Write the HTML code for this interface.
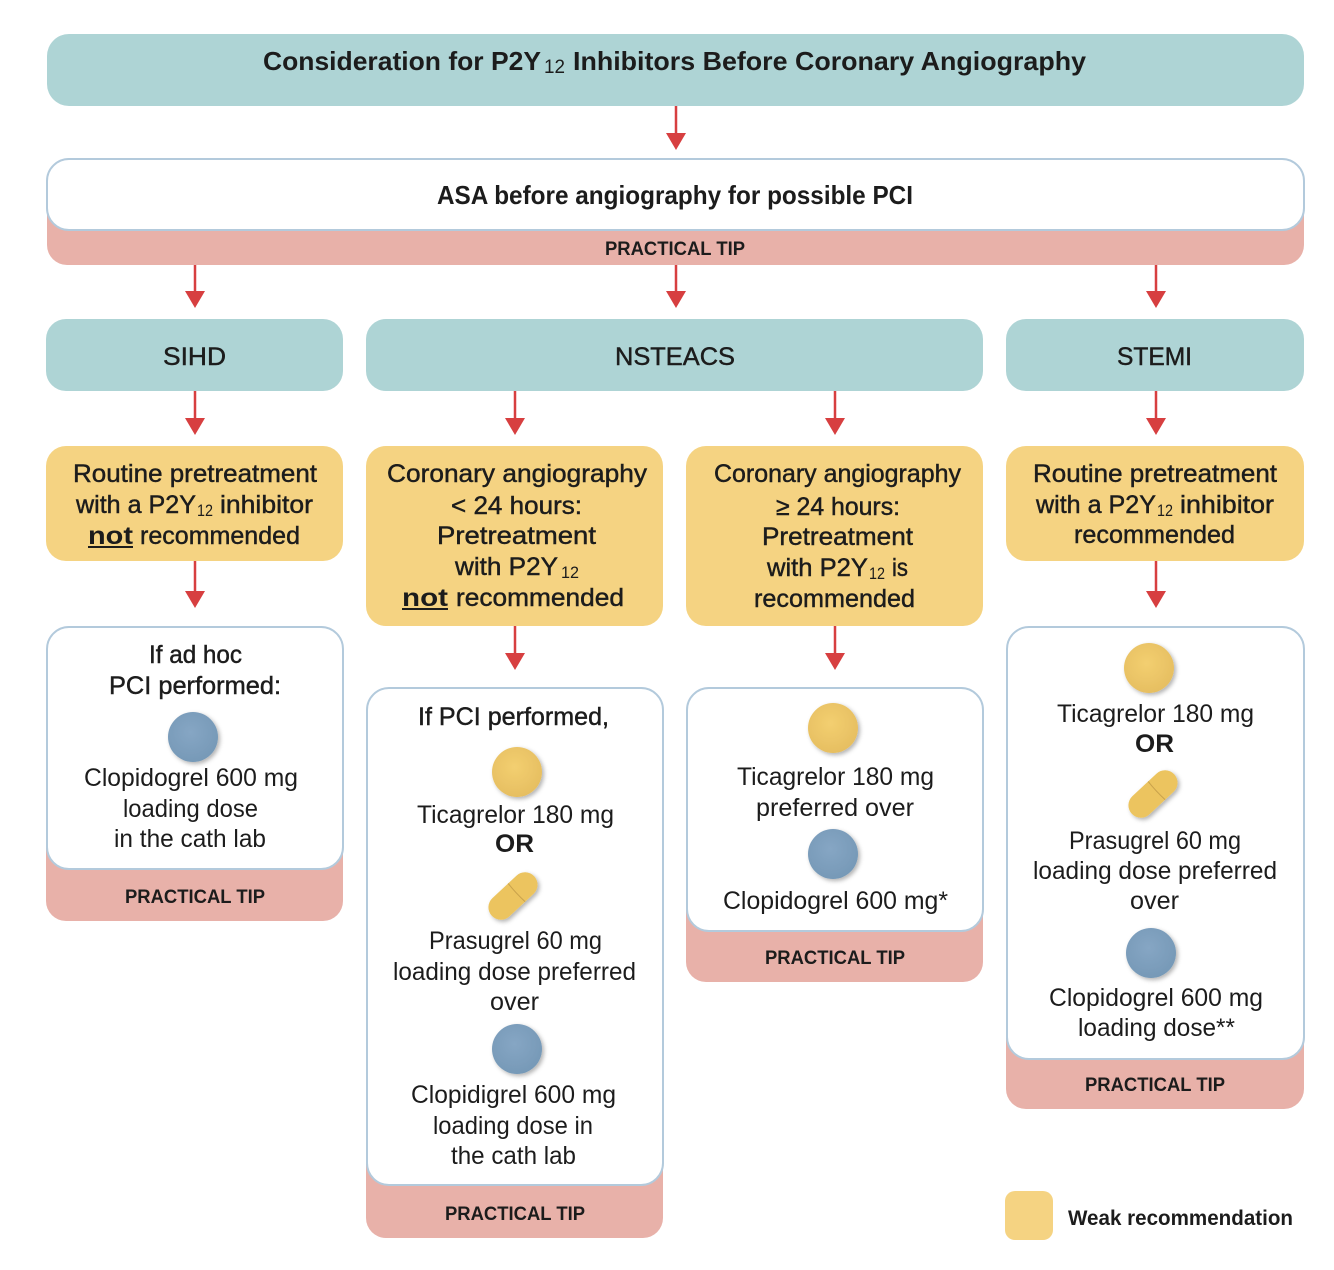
<!DOCTYPE html>
<html><head><meta charset="utf-8">
<style>
html,body{margin:0;padding:0;background:#fff;width:1334px;height:1270px;overflow:hidden}
svg{display:block}
text{font-family:"Liberation Sans",sans-serif;fill:#1c1c1c;font-size:25px;transform:translateY(-.8px)}
.m{stroke:#1c1c1c;stroke-width:.45}
.b{font-weight:bold}
.t{font-size:19px;font-weight:bold;transform:none}
.s{font-size:17px}
.tl{fill:#aed4d5}.y{fill:#f5d382}.p{fill:#e8b1a9}.w{fill:#fff;stroke:#b3cadc;stroke-width:2}
.a{stroke:#d73f40;stroke-width:2.5;fill:none}.h{fill:#d73f40}
</style></head><body>
<svg width="1334" height="1270" viewBox="0 0 1334 1270" xmlns="http://www.w3.org/2000/svg">
<defs>
<radialGradient id="gy" cx=".45" cy=".4" r=".65"><stop offset="0" stop-color="#f3cf70"/><stop offset="1" stop-color="#e5bd60"/></radialGradient>
<radialGradient id="gb" cx=".45" cy=".4" r=".65"><stop offset="0" stop-color="#86a6c4"/><stop offset="1" stop-color="#7598b6"/></radialGradient>
<filter id="sh" x="-30%" y="-30%" width="170%" height="170%"><feDropShadow dx="2" dy="2" stdDeviation="2" flood-color="#000" flood-opacity=".3"/></filter>
</defs>

<!-- boxes -->
<rect class="tl" x="47" y="34" width="1257" height="72" rx="22"/>
<rect class="p" x="47" y="190" width="1257" height="75" rx="20"/>
<rect class="w" x="47" y="159" width="1257" height="71" rx="22"/>
<rect class="tl" x="46" y="319" width="297" height="72" rx="20"/>
<rect class="tl" x="366" y="319" width="617" height="72" rx="20"/>
<rect class="tl" x="1006" y="319" width="298" height="72" rx="20"/>
<rect class="y" x="46" y="446" width="297" height="115" rx="20"/>
<rect class="y" x="366" y="446" width="297" height="180" rx="20"/>
<rect class="y" x="686" y="446" width="297" height="180" rx="20"/>
<rect class="y" x="1006" y="446" width="298" height="115" rx="20"/>

<rect class="p" x="46" y="820" width="297" height="101" rx="20"/>
<rect class="w" x="47" y="627" width="296" height="242" rx="22"/>
<rect class="p" x="366" y="1130" width="297" height="108" rx="20"/>
<rect class="w" x="367" y="688" width="296" height="497" rx="22"/>
<rect class="p" x="686" y="880" width="297" height="102" rx="20"/>
<rect class="w" x="687" y="688" width="296" height="243" rx="22"/>
<rect class="p" x="1006" y="1010" width="298" height="99" rx="20"/>
<rect class="w" x="1007" y="627" width="297" height="432" rx="22"/>
<rect class="y" x="1005" y="1191" width="48" height="49" rx="10"/>

<!-- arrows -->
<path class="a" d="M676 106V136M195 265V294M676 265V294M1156 265V294M195 391V421M515 391V421M835 391V421M1156 391V421M195 561V594M515 626V656M835 626V656M1156 561V594"/>
<path class="h" d="M666 133h20l-10 17zM185 291h20l-10 17zM666 291h20l-10 17zM1146 291h20l-10 17zM185 418h20l-10 17zM505 418h20l-10 17zM825 418h20l-10 17zM1146 418h20l-10 17zM185 591h20l-10 17zM505 653h20l-10 17zM825 653h20l-10 17zM1146 591h20l-10 17z"/>

<!-- pills -->
<g filter="url(#sh)">
<circle cx="193" cy="737" r="25" fill="url(#gb)"/>
<circle cx="517" cy="772" r="25" fill="url(#gy)"/>
<circle cx="517" cy="1049" r="25" fill="url(#gb)"/>
<circle cx="833" cy="728" r="25" fill="url(#gy)"/>
<circle cx="833" cy="854" r="25" fill="url(#gb)"/>
<circle cx="1149" cy="668" r="25" fill="url(#gy)"/>
<circle cx="1151" cy="953" r="25" fill="url(#gb)"/>
<g transform="translate(513 896) rotate(-43)"><rect x="-29" y="-12.500" width="58" height="25" rx="12.500" fill="#ecc45f"/><path d="M5 -12.500Q4 0 5 12.500" fill="none" stroke="#c9a24c" stroke-width="1"/></g>
<g transform="translate(1153 794) rotate(-43)"><rect x="-29" y="-12.500" width="58" height="25" rx="12.500" fill="#ecc45f"/><path d="M5 -12.500Q4 0 5 12.500" fill="none" stroke="#c9a24c" stroke-width="1"/></g>
</g>

<!-- header -->
<text class="b" x="263" y="71" style="font-size:26px" textLength="278" lengthAdjust="spacingAndGlyphs">Consideration for P2Y</text>
<text class="s" x="544" y="74" style="font-size:19px" textLength="21" lengthAdjust="spacingAndGlyphs">12</text>
<text class="b" x="573" y="71" style="font-size:26px" textLength="513" lengthAdjust="spacingAndGlyphs">Inhibitors Before Coronary Angiography</text>
<text class="b" x="437" y="205" style="font-size:26px" textLength="476" lengthAdjust="spacingAndGlyphs">ASA before angiography for possible PCI</text>
<text class="t" x="605" y="255" textLength="140" lengthAdjust="spacingAndGlyphs">PRACTICAL TIP</text>

<text class="m" x="163" y="366" textLength="63" lengthAdjust="spacingAndGlyphs">SIHD</text>
<text class="m" x="615" y="366" textLength="120" lengthAdjust="spacingAndGlyphs">NSTEACS</text>
<text class="m" x="1117" y="366" textLength="75" lengthAdjust="spacingAndGlyphs">STEMI</text>

<!-- yellow 1 -->
<text class="m" x="73" y="483" textLength="244" lengthAdjust="spacingAndGlyphs">Routine pretreatment</text>
<text class="m" x="76" y="514" textLength="120" lengthAdjust="spacingAndGlyphs">with a P2Y</text>
<text class="s" x="197" y="517" textLength="16" lengthAdjust="spacingAndGlyphs">12</text>
<text class="m" x="220" y="514" textLength="93" lengthAdjust="spacingAndGlyphs">inhibitor</text>
<text class="b" x="88" y="545" textLength="45" lengthAdjust="spacingAndGlyphs">not</text>
<path d="M88 547H133" stroke="#1c1c1c" stroke-width="2"/>
<text class="m" x="140" y="545" textLength="160" lengthAdjust="spacingAndGlyphs">recommended</text>

<!-- yellow 2 -->
<text class="m" x="387" y="483" textLength="260" lengthAdjust="spacingAndGlyphs">Coronary angiography</text>
<text class="m" x="451" y="515" textLength="131" lengthAdjust="spacingAndGlyphs">&lt; 24 hours:</text>
<text class="m" x="437" y="545" textLength="159" lengthAdjust="spacingAndGlyphs">Pretreatment</text>
<text class="m" x="455" y="576" textLength="103" lengthAdjust="spacingAndGlyphs">with P2Y</text>
<text class="s" x="561" y="579" textLength="18" lengthAdjust="spacingAndGlyphs">12</text>
<text class="b" x="402" y="607" textLength="46" lengthAdjust="spacingAndGlyphs">not</text>
<path d="M402 609H448" stroke="#1c1c1c" stroke-width="2"/>
<text class="m" x="456" y="607" textLength="168" lengthAdjust="spacingAndGlyphs">recommended</text>

<!-- yellow 3 -->
<text class="m" x="714" y="483" textLength="247" lengthAdjust="spacingAndGlyphs">Coronary angiography</text>
<text class="m" x="776" y="516" textLength="124" lengthAdjust="spacingAndGlyphs">≥ 24 hours:</text>
<text class="m" x="762" y="546" textLength="151" lengthAdjust="spacingAndGlyphs">Pretreatment</text>
<text class="m" x="767" y="577" textLength="101" lengthAdjust="spacingAndGlyphs">with P2Y</text>
<text class="s" x="869" y="580" textLength="16" lengthAdjust="spacingAndGlyphs">12</text>
<text class="m" x="892" y="577" textLength="16" lengthAdjust="spacingAndGlyphs">is</text>
<text class="m" x="754" y="608" textLength="161" lengthAdjust="spacingAndGlyphs">recommended</text>

<!-- yellow 4 -->
<text class="m" x="1033" y="483" textLength="244" lengthAdjust="spacingAndGlyphs">Routine pretreatment</text>
<text class="m" x="1036" y="514" textLength="120" lengthAdjust="spacingAndGlyphs">with a P2Y</text>
<text class="s" x="1157" y="517" textLength="16" lengthAdjust="spacingAndGlyphs">12</text>
<text class="m" x="1180" y="514" textLength="94" lengthAdjust="spacingAndGlyphs">inhibitor</text>
<text class="m" x="1074" y="544" textLength="161" lengthAdjust="spacingAndGlyphs">recommended</text>

<!-- white 1 -->
<text class="m" x="149" y="664" textLength="93" lengthAdjust="spacingAndGlyphs">If ad hoc</text>
<text class="m" x="109" y="695" textLength="172" lengthAdjust="spacingAndGlyphs">PCI performed:</text>
<text x="84" y="787" textLength="214" lengthAdjust="spacingAndGlyphs">Clopidogrel 600 mg</text>
<text x="123" y="818" textLength="135" lengthAdjust="spacingAndGlyphs">loading dose</text>
<text x="114" y="848" textLength="152" lengthAdjust="spacingAndGlyphs">in the cath lab</text>
<text class="t" x="125" y="903" textLength="140" lengthAdjust="spacingAndGlyphs">PRACTICAL TIP</text>

<!-- white 2 -->
<text class="m" x="418" y="726" textLength="191" lengthAdjust="spacingAndGlyphs">If PCI performed,</text>
<text x="417" y="824" textLength="197" lengthAdjust="spacingAndGlyphs">Ticagrelor 180 mg</text>
<text class="b" x="495" y="853" textLength="39" lengthAdjust="spacingAndGlyphs">OR</text>
<text x="429" y="950" textLength="173" lengthAdjust="spacingAndGlyphs">Prasugrel 60 mg</text>
<text x="393" y="981" textLength="243" lengthAdjust="spacingAndGlyphs">loading dose preferred</text>
<text x="490" y="1011" textLength="49" lengthAdjust="spacingAndGlyphs">over</text>
<text x="411" y="1104" textLength="205" lengthAdjust="spacingAndGlyphs">Clopidigrel 600 mg</text>
<text x="433" y="1135" textLength="160" lengthAdjust="spacingAndGlyphs">loading dose in</text>
<text x="451" y="1165" textLength="125" lengthAdjust="spacingAndGlyphs">the cath lab</text>
<text class="t" x="445" y="1220" textLength="140" lengthAdjust="spacingAndGlyphs">PRACTICAL TIP</text>

<!-- white 3 -->
<text x="737" y="786" textLength="197" lengthAdjust="spacingAndGlyphs">Ticagrelor 180 mg</text>
<text x="756" y="817" textLength="158" lengthAdjust="spacingAndGlyphs">preferred over</text>
<text x="723" y="910" textLength="225" lengthAdjust="spacingAndGlyphs">Clopidogrel 600 mg*</text>
<text class="t" x="765" y="964" textLength="140" lengthAdjust="spacingAndGlyphs">PRACTICAL TIP</text>

<!-- white 4 -->
<text x="1057" y="723" textLength="197" lengthAdjust="spacingAndGlyphs">Ticagrelor 180 mg</text>
<text class="b" x="1135" y="753" textLength="39" lengthAdjust="spacingAndGlyphs">OR</text>
<text x="1069" y="850" textLength="172" lengthAdjust="spacingAndGlyphs">Prasugrel 60 mg</text>
<text x="1033" y="880" textLength="244" lengthAdjust="spacingAndGlyphs">loading dose preferred</text>
<text x="1130" y="910" textLength="49" lengthAdjust="spacingAndGlyphs">over</text>
<text x="1049" y="1007" textLength="214" lengthAdjust="spacingAndGlyphs">Clopidogrel 600 mg</text>
<text x="1078" y="1037" textLength="157" lengthAdjust="spacingAndGlyphs">loading dose**</text>
<text class="t" x="1085" y="1091" textLength="140" lengthAdjust="spacingAndGlyphs">PRACTICAL TIP</text>

<text class="b" x="1068" y="1226" style="font-size:21px" textLength="225" lengthAdjust="spacingAndGlyphs">Weak recommendation</text>
</svg>
</body></html>
